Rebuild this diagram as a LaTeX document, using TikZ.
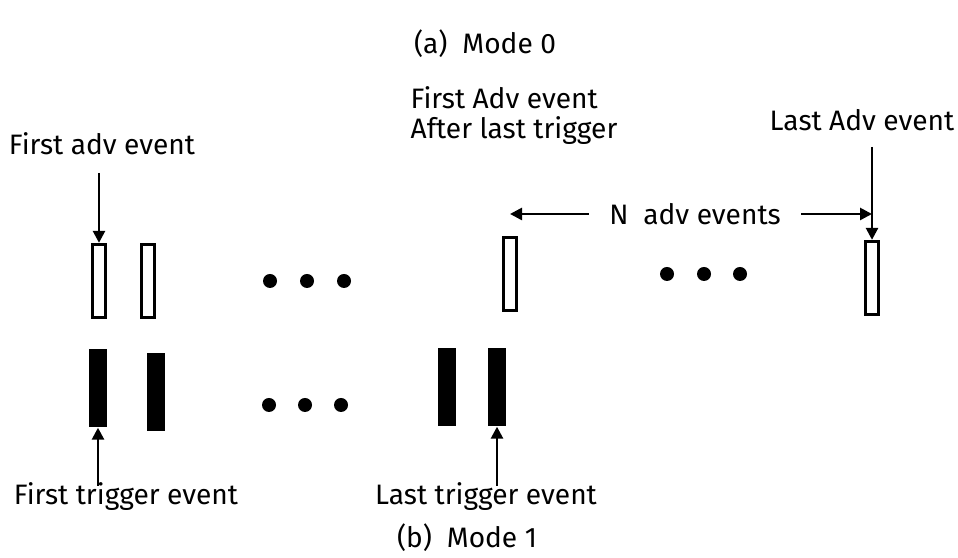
\documentclass[tikz,border=0pt]{standalone}
\usepackage{fontspec}
\setmainfont{Fira Sans}
\usetikzlibrary{arrows.meta}

\begin{document}
\begin{tikzpicture}[x=0.1mm,y=-0.1mm,
    lbl/.style={font=\fontsize{8}{10}\selectfont, inner sep=0pt},
    adv/.style={draw, line width=0.8pt, minimum width=1.35mm, minimum height=7.35mm, inner sep=0pt},
    trig/.style={fill, minimum width=1.8mm, minimum height=7.8mm, inner sep=0pt},
    dot/.style={circle, fill, minimum size=1.4mm, inner sep=0pt},
    arr/.style={-{Triangle[length=1.2mm,width=1.2mm]}, line width=0.75pt}]

      \useasboundingbox (0,0) rectangle (958,558);

      % titles
      \node[lbl, anchor=base] (modea) at (485,54) {(a)\ \ Mode 0};
      \node[lbl, anchor=base] (modeb) at (467,548) {(b)\ \ Mode 1};

      % adv events
      \node[adv] (adv1) at (99,281) {};
      \node[adv] (adv2) at (148,281) {};
      \node[adv] (adv3) at (510,274) {};
      \node[adv] (adv4) at (872,278) {};

      % trigger events
      \node[trig] (trig1) at (98,388) {};
      \node[trig] (trig2) at (156,392) {};
      \node[trig] (trig3) at (447,387) {};
      \node[trig] (trig4) at (497,387) {};

      % dots
      \foreach \x in {270,307,344} \node[dot] (dota\x) at (\x,281) {};
      \foreach \x in {667,704,740} \node[dot] (dotb\x) at (\x,274) {};
      \foreach \x in {269,305,341} \node[dot] (dotc\x) at (\x,405) {};

      % labels
      \node[lbl, anchor=base] (firstadv) at (102,155) {First adv event};
      \node[lbl, anchor=base west] (afterone) at (410,109) {First Adv event};
      \node[lbl, anchor=base west] (aftertwo) at (410,139) {After last trigger};
      \node[lbl, anchor=base] (lastadv) at (862,131) {Last Adv event};
      \node[lbl, inner xsep=2mm] (nadv) at (695,214) {N\ \ adv events};
      \node[lbl, anchor=base] (firsttrig) at (126,505) {First trigger event};
      \node[lbl, anchor=base] (lasttrig) at (486,505) {Last trigger event};

      % arrows
      \coordinate (fa) at (99,173);
      \coordinate (la) at (872,147);
      \coordinate (ft) at (98,486);
      \coordinate (lt) at (497,486);
      \draw[arr] (fa) -- (adv1.north);
      \draw[arr] (la) -- (adv4.north);
      \draw[arr] (nadv.west) -- (nadv.west -| adv3.north);
      \draw[arr] (nadv.east) -- (nadv.east -| adv4.north);
      \draw[arr] (ft) -- (trig1.south);
      \draw[arr] (lt) -- (trig4.south);

\end{tikzpicture}
\end{document}
